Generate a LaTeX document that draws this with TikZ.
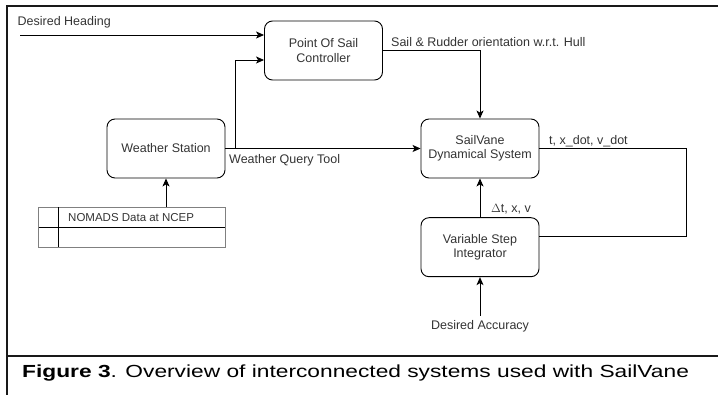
\documentclass[tikz,border=0pt]{standalone}
\usepackage{fontspec}
\setmainfont{Liberation Sans}
\usetikzlibrary{arrows.meta,calc}
\begin{document}
\begin{tikzpicture}[x=1pt,y=-1pt,
  every node/.style={font=\fontsize{12.5}{14.5}\selectfont, text=black!80},
  blk/.style={draw=black, line width=0.9pt, rounded corners=8pt, minimum width=118pt, minimum height=59pt, align=center, inner sep=0pt},
  conn/.style={line width=0.9pt, draw=black},
  arr/.style={conn, -{Stealth[length=8pt,width=7pt,inset=2pt]}},
  frame/.style={line width=2pt, draw=black!90},
  lbl/.style={anchor=west, inner sep=0pt}
]
\useasboundingbox (0,0) rectangle (718,395);
% frame
\draw[frame] (7,395) -- (7,6) -- (718,6);
\draw[frame] (7,356) -- (718,356);

% blocks
\node[blk] (pos) at (323.5,50.5) {Point Of Sail\\Controller};
\node[blk] (ws) at (166,148.5) {Weather Station};
\node[blk] (sv) at (480,148.5) {SailVane\\Dynamical System};
\node[blk] (vsi) at (480,247.2) {Variable Step\\Integrator};

% table
\coordinate (tl) at (38.5,207.5);
\coordinate (br) at (225,247);
\node[draw=black!50, line width=0.9pt, minimum width=186.5pt, minimum height=39.5pt, inner sep=0pt] (tab) at ($(tl)!0.5!(br)$) {};
\draw[conn, line width=0.8pt] (38.5,227.3) -- (225,227.3);
\draw[conn, line width=0.8pt] (58.3,207.5) -- (58.3,247);
\node[lbl, font=\fontsize{11.5}{13}\selectfont] (nomads) at (68,217.5) {NOMADS Data at NCEP};

% inputs / outputs
\coordinate (dh) at (20,35);
\node[lbl] (dhl) at (17.5,22) {Desired Heading};
\draw[arr] (dh) -- (dh -| pos.west);

\coordinate (brn) at (235,148.5);
\draw[arr] (ws.east) -- (sv.west);
\coordinate (posin) at ($(pos.west)+(0,9.5)$);
\draw[arr] (brn) |- (posin);
\node[lbl] (wqt) at (229,160) {Weather Query Tool};

\draw[arr] (pos.east) -| (sv.north);
\node[lbl] (srl) at (391,42.5) {Sail \& Rudder orientation w.r.t. Hull};

\coordinate (rc) at (686,148.5);
\coordinate (vin) at ($(vsi.east)+(0,-10.5)$);
\draw[conn] (sv.east) -- (rc) |- (vin);
\node[lbl] (txv) at (549,141) {t, x\_dot, v\_dot};

\draw[arr] (vsi.north) -- (sv.south);
\node[lbl] (dtx) at (491,209) {$\Delta$t, x, v};

\node[inner sep=0pt] (acc) at (480,326) {Desired Accuracy};
\draw[arr] ($(acc.north)+(0,-4)$) -- (vsi.south);

\draw[arr] (tab.north -| ws.south) -- (ws.south);

% caption
\node[anchor=base west, inner sep=0pt, text=black] (cap) at (22,378)
  {\scalebox{1.30}[1]{\fontsize{17.5}{20}\selectfont\textbf{Figure 3}. Overview of interconnected systems used with SailVane}};
\end{tikzpicture}
\end{document}
